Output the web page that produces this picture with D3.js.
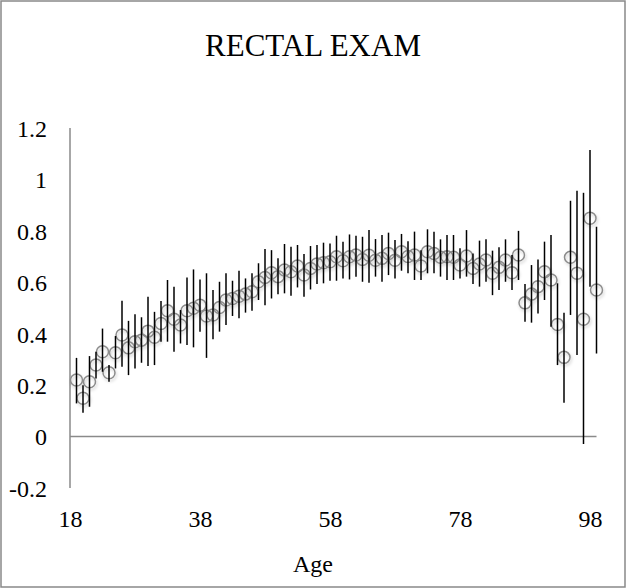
<!DOCTYPE html>
<html>
<head>
<meta charset="utf-8">
<script src="https://cdn.jsdelivr.net/npm/d3@7"></script>
<style>
  body { margin: 0; background: #fff; }
</style>
</head>
<body>
<svg id="chart" width="626" height="588"></svg>
<script>
// Age categories (18 has no value, so points start at 19).
var ages = [19, 20, 21, 22, 23, 24, 25, 26, 27, 28, 29, 30, 31, 32, 33, 34, 35, 36, 37, 38,
  39, 40, 41, 42, 43, 44, 45, 46, 47, 48, 49, 50, 51, 52, 53, 54, 55, 56, 57, 58,
  59, 60, 61, 62, 63, 64, 65, 66, 67, 68, 69, 70, 71, 72, 73, 74, 75, 76, 77, 78,
  79, 80, 81, 82, 83, 84, 85, 86, 87, 88, 89, 90, 91, 92, 93, 94, 95, 96, 97, 98, 99];

// Rate per age.
var rate = [0.22, 0.149, 0.213, 0.278, 0.33, 0.248, 0.326, 0.395, 0.345, 0.369,
  0.375, 0.41, 0.386, 0.44, 0.489, 0.456, 0.434, 0.489, 0.499, 0.511,
  0.469, 0.473, 0.502, 0.531, 0.537, 0.546, 0.554, 0.563, 0.602, 0.619,
  0.637, 0.622, 0.648, 0.641, 0.663, 0.628, 0.654, 0.671, 0.676, 0.68,
  0.699, 0.684, 0.699, 0.706, 0.689, 0.705, 0.686, 0.693, 0.712, 0.686,
  0.719, 0.70, 0.706, 0.663, 0.719, 0.712, 0.697, 0.699, 0.697, 0.667,
  0.702, 0.654, 0.671, 0.687, 0.635, 0.658, 0.687, 0.637, 0.706, 0.52,
  0.554, 0.583, 0.641, 0.609, 0.436, 0.308, 0.697, 0.635, 0.456, 0.849, 0.57];

// Lower end of error bar.
var lower = [0.129, 0.093, 0.116, 0.226, 0.252, 0.213, 0.265, 0.272, 0.239, 0.265,
  0.287, 0.274, 0.278, 0.369, 0.369, 0.33, 0.362, 0.356, 0.347, 0.408,
  0.306, 0.378, 0.408, 0.434, 0.469, 0.46, 0.482, 0.489, 0.531, 0.511,
  0.537, 0.553, 0.557, 0.548, 0.58, 0.544, 0.572, 0.593, 0.596, 0.606,
  0.606, 0.615, 0.611, 0.622, 0.602, 0.598, 0.622, 0.602, 0.628, 0.615,
  0.645, 0.635, 0.609, 0.609, 0.635, 0.635, 0.622, 0.609, 0.609, 0.615,
  0.622, 0.593, 0.583, 0.602, 0.55, 0.57, 0.602, 0.57, 0.609, 0.447,
  0.443, 0.479, 0.531, 0.427, 0.278, 0.132, 0.473, 0.317, -0.029, 0.583, 0.323];

// Upper end of error bar.
var upper = [0.306, 0.2, 0.313, 0.33, 0.42, 0.278, 0.391, 0.528, 0.45, 0.476,
  0.464, 0.544, 0.485, 0.527, 0.609, 0.583, 0.492, 0.619, 0.65, 0.611,
  0.635, 0.57, 0.602, 0.635, 0.606, 0.645, 0.615, 0.635, 0.674, 0.729,
  0.725, 0.693, 0.749, 0.738, 0.745, 0.71, 0.741, 0.745, 0.754, 0.751,
  0.781, 0.758, 0.786, 0.781, 0.777, 0.803, 0.768, 0.784, 0.793, 0.764,
  0.788, 0.76, 0.797, 0.725, 0.806, 0.797, 0.767, 0.784, 0.784, 0.732,
  0.803, 0.712, 0.762, 0.767, 0.723, 0.736, 0.767, 0.706, 0.8, 0.593,
  0.667, 0.689, 0.758, 0.784, 0.596, 0.482, 0.917, 0.956, 0.948, 1.114, 0.816];

// Tick labels.
var xTicks = [18, 38, 58, 78, 98];
var yTicks = [-0.2, 0, 0.2, 0.4, 0.6, 0.8, 1, 1.2];

var serif = "'Liberation Serif', 'Times New Roman', Tinos, 'Noto Serif', 'DejaVu Serif', serif";

var points = ages.map(function(a, i) {
  return { age: a, v: rate[i], lo: lower[i], hi: upper[i] };
});

var svg = d3.select("#chart");

// Drop shadow for the markers.
var defs = svg.append("defs");
defs.append("filter")
    .attr("id", "shadow")
    .attr("x", "-50%").attr("y", "-50%")
    .attr("width", "200%").attr("height", "200%")
  .append("feDropShadow")
    .attr("dx", 1).attr("dy", 2)
    .attr("stdDeviation", 1.5)
    .attr("flood-color", "#000")
    .attr("flood-opacity", 0.2);

// Outer border.
svg.append("rect")
    .attr("x", 1).attr("y", 1)
    .attr("width", 624).attr("height", 586)
    .attr("fill", "#fff")
    .attr("stroke", "#898989")
    .attr("stroke-width", 1.5);

var x = d3.scaleLinear().domain([18, 99]).range([70, 596.5]);
var y = d3.scaleLinear().domain([-0.2, 1.2]).range([488, 128]);

// Title.
svg.append("text")
    .attr("x", 313).attr("y", 56)
    .attr("text-anchor", "middle")
    .style("font-family", serif)
    .attr("font-size", 31)
    .text("RECTAL EXAM");

// Y axis (labels only, line drawn below).
var yAxis = svg.append("g")
    .attr("transform", "translate(70,0)")
    .call(d3.axisLeft(y).tickValues(yTicks).tickSize(0).tickPadding(23)
      .tickFormat(function(d) { return String(+d.toFixed(1)); }));
yAxis.select(".domain").remove();
yAxis.attr("font-size", 24);
yAxis.selectAll("text").style("font-family", serif).attr("fill", "#000").attr("dy", "0.35em");

// X axis labels.
var xAxis = svg.append("g")
    .attr("transform", "translate(0,510)")
    .call(d3.axisBottom(x).tickValues(xTicks).tickSize(0).tickPadding(0));
xAxis.select(".domain").remove();
xAxis.attr("font-size", 24);
xAxis.selectAll("text").style("font-family", serif).attr("fill", "#000").attr("dy", "0.71em");

// Axis lines.
svg.append("line")
    .attr("x1", x(18)).attr("x2", x(18))
    .attr("y1", y(1.2)).attr("y2", y(-0.2))
    .attr("stroke", "#8a8a8a").attr("stroke-width", 1.5);
svg.append("line")
    .attr("x1", x(18)).attr("x2", x(99))
    .attr("y1", y(0)).attr("y2", y(0))
    .attr("stroke", "#8a8a8a").attr("stroke-width", 1.5);

// Markers.
svg.append("g")
    .attr("filter", "url(#shadow)")
  .selectAll("circle")
  .data(points)
  .enter()
  .append("circle")
    .attr("cx", function(d) { return x(d.age); })
    .attr("cy", function(d) { return y(d.v); })
    .attr("r", 6)
    .attr("fill", "none")
    .attr("stroke", "#8c8c8c")
    .attr("stroke-width", 1.5);

// Error bars.
svg.append("g")
  .selectAll("line")
  .data(points)
  .enter()
  .append("line")
    .attr("x1", function(d) { return x(d.age); })
    .attr("x2", function(d) { return x(d.age); })
    .attr("y1", function(d) { return y(d.hi); })
    .attr("y2", function(d) { return y(d.lo); })
    .attr("stroke", "#000")
    .attr("stroke-width", 1.5);

// Axis title.
svg.append("text")
    .attr("x", 313).attr("y", 572)
    .attr("text-anchor", "middle")
    .style("font-family", serif)
    .attr("font-size", 24)
    .text("Age");
</script>
</body>
</html>
